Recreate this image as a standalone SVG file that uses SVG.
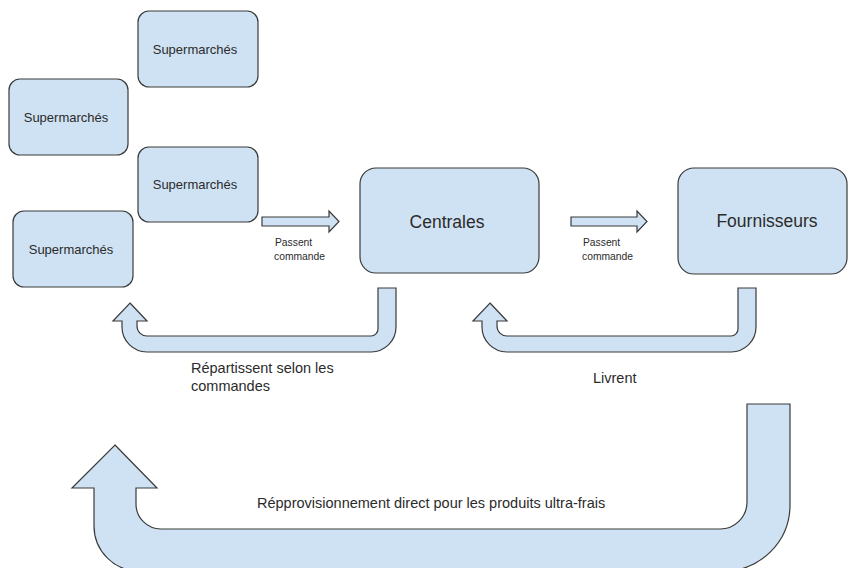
<svg xmlns="http://www.w3.org/2000/svg" width="849" height="568" viewBox="0 0 849 568">
  <style>
    .box { fill: #cfe2f3; stroke: #3a3a3a; stroke-width: 1.2; }
    .arr { fill: #cfe2f3; stroke: #3a3a3a; stroke-width: 1.2; stroke-linejoin: miter; }
    text { font-family: "Liberation Sans", Arial, sans-serif; fill: #2b2b2b; }
    .sm { font-size: 13px; text-anchor: middle; }
    .big { font-size: 17.5px; text-anchor: middle; }
    .lbl { font-size: 10.3px; }
    .lbl2 { font-size: 14.5px; }
  </style>
  <rect width="849" height="568" fill="#ffffff"/>

  <g id="super1">
    <rect class="box" x="138" y="11" width="120" height="76" rx="11"/>
    <text class="sm" x="195" y="53.5">Supermarchés</text>
  </g>
  <g id="super2">
    <rect class="box" x="9" y="79" width="119" height="76" rx="11"/>
    <text class="sm" x="66" y="122">Supermarchés</text>
  </g>
  <g id="super3">
    <rect class="box" x="138" y="147" width="120" height="75" rx="11"/>
    <text class="sm" x="195" y="189">Supermarchés</text>
  </g>
  <g id="super4">
    <rect class="box" x="13" y="211" width="120" height="76" rx="11"/>
    <text class="sm" x="71" y="254">Supermarchés</text>
  </g>
  <g id="centrales">
    <rect class="box" x="360" y="168" width="179" height="105" rx="16"/>
    <text class="big" x="447" y="228">Centrales</text>
  </g>
  <g id="fournisseurs">
    <rect class="box" x="678" y="168" width="169" height="106" rx="16"/>
    <text class="big" x="767" y="227">Fournisseurs</text>
  </g>

  <g id="connectors">
    <path class="arr" d="M262,217 L329,217 L329,211 L339,221.5 L329,232 L329,226 L262,226 Z"/>
    <text class="lbl" x="275" y="246">Passent</text>
    <text class="lbl" x="274" y="260">commande</text>

    <path class="arr" d="M571,217 L637,217 L637,211 L647,221.5 L637,232 L637,226 L571,226 Z"/>
    <text class="lbl" x="583" y="246">Passent</text>
    <text class="lbl" x="582" y="260">commande</text>

    <path class="arr" d="M130,303 L147,321 L137,321 L137,326 A10,10 0 0 0 147,336 L371,336 A7,7 0 0 0 378,329 L378,288 L396,288 L396,327 A25,25 0 0 1 371,352 L147,352 A25,25 0 0 1 122,327 L122,321 L113,321 Z"/>
    <text class="lbl2" x="191" y="373">Répartissent selon les</text>
    <text class="lbl2" x="191" y="391">commandes</text>

    <path class="arr" transform="translate(360,0)" d="M130,303 L147,321 L137,321 L137,326 A10,10 0 0 0 147,336 L371,336 A7,7 0 0 0 378,329 L378,288 L396,288 L396,327 A25,25 0 0 1 371,352 L147,352 A25,25 0 0 1 122,327 L122,321 L113,321 Z"/>
    <text class="lbl2" x="593" y="383">Livrent</text>

    <path class="arr" d="M115,445 L157,488 L136,488 L136,504 A25,25 0 0 0 161,529 L720,529 A27,27 0 0 0 747,502 L747,404 L790,404 L790,505 A66,66 0 0 1 724,571 L139,571 A45,45 0 0 1 94,526 L94,488 L72,488 Z"/>
    <text class="lbl2" x="257" y="508">Répprovisionnement direct pour les produits ultra-frais</text>
  </g>
</svg>
